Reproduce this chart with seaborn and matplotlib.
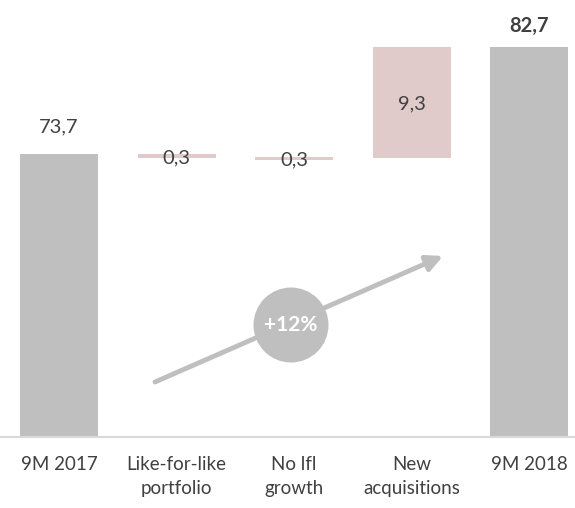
import matplotlib
matplotlib.use("Agg")
import matplotlib.pyplot as plt
from matplotlib.patches import Circle
import seaborn as sns

# Revenue bridge, 9M 2017 -> 9M 2018
categories = ["9M 2017", "Like-for-like\nportfolio", "No lfl\ngrowth", "New\nacquisitions", "9M 2018"]
values = [73.7, 0.3, 0.3, 9.3, 82.7]
bases = [0.0, 73.4, 73.2, 73.4, 0.0]
labels = ["73,7", "0,3", "0,3", "9,3", "82,7"]
is_total = [True, False, False, False, True]
growth_label = "+12%"

GREY = "#bfbfbf"
PINK = "#e0caca"
TEXT = "#404040"

sns.set_theme(style="white")
plt.rcParams["font.family"] = ["Lato", "DejaVu Sans"]

W, H = 575, 508
fig = plt.figure(figsize=(W / 100, H / 100), dpi=100)
ax = fig.add_axes([0, 71 / H, 1, 437 / H])

sns.barplot(x=list(range(len(categories))), y=values, color=GREY, width=0.664,
            saturation=1, ax=ax, native_scale=False)

for patch, base, total in zip(ax.patches, bases, is_total):
    patch.set_y(base)
    patch.set_facecolor(GREY if total else PINK)
    patch.set_edgecolor("none")

ax.set_ylim(50, 86.63)
ax.set_xlim(-0.502, 4.39)

for i, (v, b, lab, total) in enumerate(zip(values, bases, labels, is_total)):
    if total:
        bold = i == len(values) - 1
        ax.annotate(lab, (i, b + v), xytext=(0, 11 if bold else 16),
                    textcoords="offset points", ha="center", va="baseline",
                    fontsize=14.5, color=TEXT, fontweight="bold" if bold else "normal")
    else:
        ax.text(i, b + v / 2, lab, ha="center", va="center_baseline",
                fontsize=14.5, color=TEXT)

ax.set_xticks(range(len(categories)))
ax.set_xticklabels(categories, fontsize=13.5, color=TEXT, linespacing=1.5)
ax.tick_params(axis="x", length=0, pad=14)
ax.set_yticks([])
ax.set_ylabel("")

for side in ["top", "left", "right"]:
    ax.spines[side].set_visible(False)
ax.spines["bottom"].set_color("#d9d9d9")
ax.spines["bottom"].set_linewidth(1.5)

# growth arrow with badge
def px(x, y):
    return (x / W, (H - y - 71) / 437)

ax.annotate("", xy=px(443, 256), xytext=px(155, 382),
            xycoords="axes fraction", textcoords="axes fraction",
            arrowprops=dict(arrowstyle="-|>,head_length=0.8,head_width=0.4",
                            color=GREY, lw=3.5, shrinkA=0, shrinkB=0))

cx, cy = 291 / W, (H - 325) / H
circ = Circle((291, H - 325), 37.5, transform=None, facecolor=GREY,
              edgecolor="none", zorder=5)
fig.add_artist(circ)
fig.text(cx, cy, growth_label, ha="center", va="center", color="white",
         fontsize=15, fontweight="bold", zorder=6)

fig.savefig("out.png", dpi=100)
